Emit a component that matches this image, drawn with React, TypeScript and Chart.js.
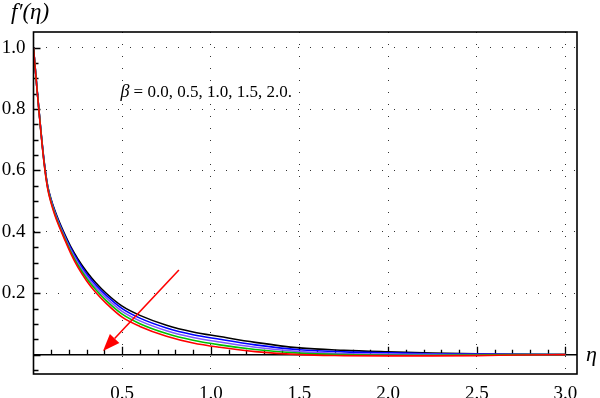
import { useEffect, useRef } from 'react';
import { Chart, registerables } from 'chart.js';

Chart.register(...registerables);

// eta (x) sample positions
const etaValues = [0, 0.02, 0.04, 0.06, 0.08, 0.1, 0.12, 0.14, 0.17, 0.21, 0.25, 0.3, 0.35, 0.41, 0.5, 0.6, 0.75, 0.9, 1.05, 1.25, 1.5, 1.75, 2.0, 2.25, 2.5, 2.75, 3.0];

// f'(eta) for each beta
const fBeta00 = [1.0, 0.865, 0.74, 0.63, 0.55, 0.505, 0.47, 0.44, 0.4, 0.352, 0.312, 0.27, 0.235, 0.2, 0.158, 0.128, 0.096, 0.074, 0.059, 0.04, 0.022, 0.014, 0.009, 0.005, 0.003, 0.001, 0.0];
const fBeta05 = [1.0, 0.864, 0.739, 0.628, 0.548, 0.502, 0.466, 0.436, 0.395, 0.347, 0.306, 0.263, 0.228, 0.193, 0.15, 0.119, 0.087, 0.065, 0.05, 0.032, 0.016, 0.009, 0.006, 0.003, 0.002, 0.001, 0.0];
const fBeta10 = [1.0, 0.864, 0.738, 0.626, 0.546, 0.499, 0.463, 0.432, 0.391, 0.341, 0.299, 0.256, 0.22, 0.185, 0.141, 0.11, 0.078, 0.056, 0.041, 0.024, 0.01, 0.004, 0.002, 0.001, 0.0, 0.0, 0.0];
const fBeta15 = [1.0, 0.863, 0.737, 0.624, 0.543, 0.496, 0.459, 0.428, 0.387, 0.336, 0.292, 0.248, 0.212, 0.176, 0.132, 0.101, 0.069, 0.047, 0.032, 0.017, 0.005, 0.0, -0.002, -0.002, -0.001, 0.0, 0.0];
const fBeta20 = [1.0, 0.862, 0.735, 0.622, 0.54, 0.492, 0.455, 0.424, 0.383, 0.33, 0.285, 0.24, 0.203, 0.167, 0.122, 0.092, 0.06, 0.038, 0.024, 0.01, 0.0, -0.003, -0.004, -0.004, -0.003, -0.001, 0.0];

const seriesNames = ['β = 0.0', 'β = 0.5', 'β = 1.0', 'β = 1.5', 'β = 2.0'];
const seriesColors = ['#000000', '#0000ff', '#7f55ff', '#00c000', '#ff0000'];

const xTickValues = [0.5, 1.0, 1.5, 2.0, 2.5, 3.0];
const yTickValues = [0.2, 0.4, 0.6, 0.8, 1.0];

const annotationSymbol = 'β';
const annotationText = ' = 0.0, 0.5, 1.0, 1.5, 2.0.';
const annotationPos = { x: 0.49, y: 0.84 };
const arrowFrom = { x: 0.82, y: 0.276 };
const arrowTo = { x: 0.392, y: 0.012 };
const yAxisTitle = 'f′(η)';
const xAxisTitle = 'η';

const xMin = 0;
const xMax = 3.065;
const yMin = -0.063;
const yMax = 1.051;

const SERIF = "'Liberation Serif', 'Times New Roman', serif";

const decorPlugin = {
  id: 'decor',
  beforeDatasetsDraw(chart: any) {
    const { ctx, chartArea: a, scales } = chart;
    const x = scales.x;
    const y = scales.y;
    const y0 = y.getPixelForValue(0);
    ctx.save();
    ctx.strokeStyle = '#000';
    ctx.lineWidth = 1.5;
    ctx.beginPath();
    ctx.moveTo(a.left, y0);
    ctx.lineTo(a.right, y0);
    ctx.stroke();
    ctx.lineWidth = 1.3;
    ctx.beginPath();
    for (let i = 1; i <= 30; i++) {
      const px = Math.round(x.getPixelForValue(i / 10)) + 0.5;
      const len = i % 5 === 0 ? 8 : 5;
      ctx.moveTo(px, y0);
      ctx.lineTo(px, y0 - len);
    }
    for (let i = -1; i <= 21; i++) {
      const py = Math.round(y.getPixelForValue(i * 0.05)) + 0.5;
      if (py < a.top + 1 || py > a.bottom - 1) continue;
      const len = i % 4 === 0 ? 7 : 5;
      ctx.moveTo(a.left, py);
      ctx.lineTo(a.left + len, py);
    }
    ctx.stroke();
    ctx.restore();
  },
  afterDraw(chart: any) {
    const { ctx, chartArea: a, scales } = chart;
    const x = scales.x;
    const y = scales.y;
    ctx.save();
    // frame
    ctx.strokeStyle = '#000';
    ctx.lineWidth = 1.6;
    ctx.strokeRect(a.left, a.top, a.right - a.left, a.bottom - a.top);

    // arrow
    const x1 = x.getPixelForValue(arrowFrom.x);
    const y1 = y.getPixelForValue(arrowFrom.y);
    const x2 = x.getPixelForValue(arrowTo.x);
    const y2 = y.getPixelForValue(arrowTo.y);
    const ang = Math.atan2(y2 - y1, x2 - x1);
    const headLen = 17;
    const headHalf = 6.5;
    const bx = x2 - headLen * Math.cos(ang);
    const by = y2 - headLen * Math.sin(ang);
    ctx.strokeStyle = '#ff0000';
    ctx.fillStyle = '#ff0000';
    ctx.lineWidth = 1.6;
    ctx.beginPath();
    ctx.moveTo(x1, y1);
    ctx.lineTo(bx, by);
    ctx.stroke();
    ctx.beginPath();
    ctx.moveTo(x2, y2);
    ctx.lineTo(bx + headHalf * Math.sin(ang), by - headHalf * Math.cos(ang));
    ctx.lineTo(bx - headHalf * Math.sin(ang), by + headHalf * Math.cos(ang));
    ctx.closePath();
    ctx.fill();

    // texts
    ctx.fillStyle = '#000';
    ctx.textBaseline = 'alphabetic';
    ctx.textAlign = 'left';
    const ax = x.getPixelForValue(annotationPos.x);
    const ay = y.getPixelForValue(annotationPos.y);
    ctx.font = `italic 18px ${SERIF}`;
    ctx.fillText(annotationSymbol, ax, ay);
    const bw = ctx.measureText(annotationSymbol).width;
    ctx.font = `17px ${SERIF}`;
    ctx.fillText(annotationText, ax + bw, ay);

    ctx.font = `italic 23px ${SERIF}`;
    ctx.fillText(yAxisTitle, 11, 19);
    ctx.font = `italic 22px ${SERIF}`;
    ctx.fillText(xAxisTitle, 586, y.getPixelForValue(0) + 6);
    ctx.restore();
  },
};

export default function App() {
  const ref = useRef<HTMLCanvasElement | null>(null);
  useEffect(() => {
    const canvas = ref.current;
    if (!canvas) return;
    const order = [4, 3, 2, 1, 0];
    const allSeries = [fBeta00, fBeta05, fBeta10, fBeta15, fBeta20];
    const datasets = allSeries.map((vals, i) => ({
      label: seriesNames[i],
      data: etaValues.map((e, j) => ({ x: e, y: vals[j] })),
      borderColor: seriesColors[i],
      backgroundColor: seriesColors[i],
      borderWidth: 1.6,
      pointRadius: 0,
      cubicInterpolationMode: 'monotone' as const,
      order: order[i],
    }));
    const chart = new Chart(canvas, {
      type: 'line',
      data: { datasets },
      plugins: [decorPlugin],
      options: {
        animation: false,
        responsive: false,
        devicePixelRatio: 1,
        layout: { padding: { top: 32, right: 23, left: 0, bottom: 0 } },
        plugins: { legend: { display: false }, tooltip: { enabled: false } },
        scales: {
          x: {
            type: 'linear',
            min: xMin,
            max: xMax,
            afterBuildTicks: (s: any) => {
              s.ticks = xTickValues.map((v) => ({ value: v }));
            },
            afterFit: (s: any) => {
              s.height = 24;
            },
            ticks: {
              font: { family: SERIF, size: 19 },
              color: '#000',
              padding: 9,
              maxRotation: 0,
              autoSkip: false,
              callback: (v: any) => Number(v).toFixed(1),
            },
            grid: { color: '#333', lineWidth: 1, drawTicks: false },
            border: { display: false, dash: [1, 11] },
          },
          y: {
            type: 'linear',
            min: yMin,
            max: yMax,
            afterBuildTicks: (s: any) => {
              s.ticks = yTickValues.map((v) => ({ value: v }));
            },
            afterFit: (s: any) => {
              s.width = 33.5;
            },
            ticks: {
              font: { family: SERIF, size: 19 },
              color: '#000',
              padding: 8,
              autoSkip: false,
              callback: (v: any) => Number(v).toFixed(1),
            },
            grid: { color: '#333', lineWidth: 1, drawTicks: false },
            border: { display: false, dash: [1, 11] },
          },
        },
      },
    });
    return () => chart.destroy();
  }, []);
  return (
    <div style={{ position: 'absolute', left: 0, top: 0, width: 600, height: 398, background: '#fff' }}>
      <canvas ref={ref} width={600} height={398} style={{ display: 'block' }} />
    </div>
  );
}
